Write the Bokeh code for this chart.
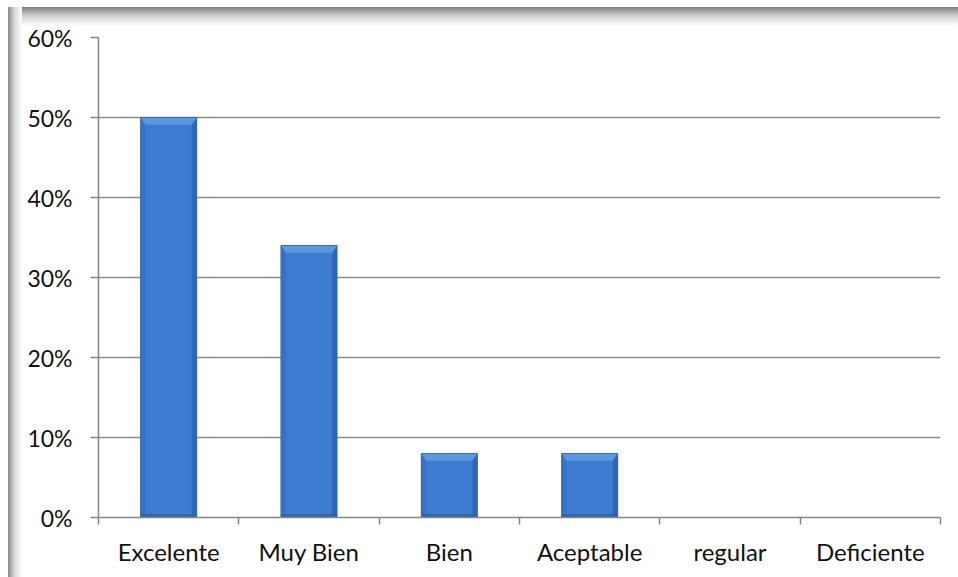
from bokeh.plotting import figure
from bokeh.models import FixedTicker, NumeralTickFormatter, InlineStyleSheet, Range1d
from bokeh.embed import file_html
from bokeh.resources import INLINE

# Ratings and the share of answers in each one
categories = ["Excelente", "Muy Bien", "Bien", "Aceptable", "regular", "Deficiente"]
shares = [0.50, 0.34, 0.08, 0.08, 0.0, 0.0]
y_ticks = [0.0, 0.1, 0.2, 0.3, 0.4, 0.5, 0.6]

FONT = "Lato"
W, H = 958, 577

# Grey inner shadow along the top and left edges of the chart box
shadow_css = InlineStyleSheet(css="""
:host {
  background:
    linear-gradient(to right, #8a8a8a, #d8d8d8 45%, #ffffff) 8px 7px / 14px 100% no-repeat,
    linear-gradient(to bottom, #7c7c7c, #cfcfcf 45%, #ffffff) 8px 7px / 100% 19px no-repeat,
    #ffffff;
}
""")

p = figure(width=W, height=H, output_backend="svg", toolbar_location=None,
           x_range=Range1d(0, len(categories)), y_range=Range1d(0, 0.6),
           min_border_left=98, min_border_right=18, min_border_top=37, min_border_bottom=60,
           stylesheets=[shadow_css])
p.border_fill_color = None
p.background_fill_color = "#ffffff"
p.outline_line_color = None

centers = [i + 0.5 for i in range(len(categories))]
half = 0.2          # half bar width, in category units
side = 0.035        # width of the darker side faces
bevel = 0.009       # height of the lighter top face

drawn = [(c, v) for c, v in zip(centers, shares) if v > 0]
bx = [c for c, _ in drawn]
bv = [v for _, v in drawn]

# bar body
p.quad(left=[c - half for c in bx], right=[c + half for c in bx],
       bottom=0, top=bv, fill_color="#3d7cd0", line_color=None)
# slightly darker side faces
p.quad(left=[c - half for c in bx], right=[c - half + side for c in bx],
       bottom=0, top=bv, fill_color="#3773c4", line_color=None)
p.quad(left=[c + half - side for c in bx], right=[c + half for c in bx],
       bottom=0, top=bv, fill_color="#3067b2", line_color=None)
# darker bottom face
p.quad(left=[c - half for c in bx], right=[c + half for c in bx],
       bottom=0, top=[0.004] * len(bx), fill_color="#3062a8", line_color=None)
# lighter bevelled top face
top_xs = [[c - half, c + half, c + half - side, c - half + side] for c in bx]
top_ys = [[v, v, v - bevel, v - bevel] for v in bv]
p.patches(top_xs, top_ys, fill_color="#5e97e0", line_color=None)
# thin outline over everything
p.quad(left=[c - half for c in bx], right=[c + half for c in bx],
       bottom=0, top=bv, fill_color=None, line_color="#31639f", line_width=0.8)

# y axis: percentages
p.yaxis.ticker = FixedTicker(ticks=y_ticks, minor_ticks=[])
p.yaxis.formatter = NumeralTickFormatter(format="0%")
p.yaxis.axis_line_color = "#868686"
p.yaxis.axis_line_width = 1.5
p.yaxis.major_tick_line_color = "#868686"
p.yaxis.major_tick_line_width = 1.5
p.yaxis.major_tick_in = 0
p.yaxis.major_tick_out = 8
p.yaxis.major_label_standoff = 18
p.yaxis.major_label_text_font = FONT
p.yaxis.major_label_text_font_size = "23px"
p.yaxis.major_label_text_color = "#111111"

# x axis: labels centred in each category, ticks on the boundaries
p.xaxis.ticker = FixedTicker(ticks=centers, minor_ticks=list(range(len(categories) + 1)))
p.xaxis.major_label_overrides = {c: name for c, name in zip(centers, categories)}
p.xaxis.axis_line_color = "#868686"
p.xaxis.axis_line_width = 1.5
p.xaxis.major_tick_line_color = None
p.xaxis.minor_tick_line_color = "#868686"
p.xaxis.minor_tick_line_width = 1.5
p.xaxis.minor_tick_in = 0
p.xaxis.minor_tick_out = 7
p.xaxis.major_label_standoff = 12
p.xaxis.major_label_text_font = FONT
p.xaxis.major_label_text_font_size = "24px"
p.xaxis.major_label_text_color = "#111111"

p.xgrid.grid_line_color = None
p.ygrid.ticker = FixedTicker(ticks=y_ticks)
p.ygrid.grid_line_color = "#8c8c8c"
p.ygrid.grid_line_width = 1.5

open("out.html", "w").write(file_html(p, INLINE))
